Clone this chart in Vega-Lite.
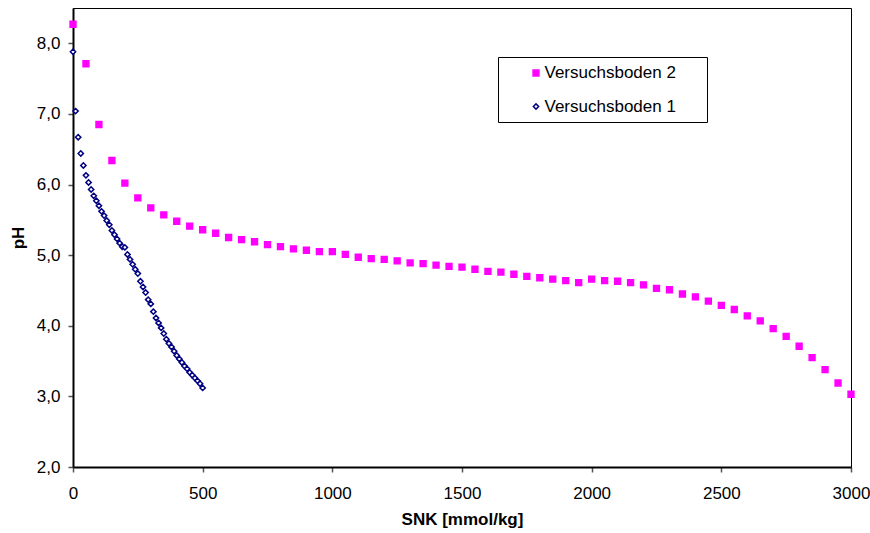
{
  "$schema": "https://vega.github.io/schema/vega-lite/v6.json",
  "width": 778,
  "height": 459,
  "autosize": {"type": "none"},
  "padding": {"left": 73, "top": 8, "right": 19, "bottom": 66},
  "background": "white",
  "config": {
    "font": "Liberation Sans",
    "view": {"stroke": "#000000", "strokeWidth": 1},
    "axis": {"grid": false, "labelFont": "Liberation Sans", "labelFontSize": 17, "labelColor": "#000000", "titleFont": "Liberation Sans", "titleFontSize": 17, "titleFontWeight": "bold", "titleColor": "#000000", "domainColor": "#000000", "domainWidth": 2, "tickColor": "#555555", "tickWidth": 1.5, "tickSize": 5}
  },
  "datasets": {
    "pts": [
      {"series": "Versuchsboden 2", "snk": 0, "ph": 8.27},
      {"series": "Versuchsboden 2", "snk": 50, "ph": 7.71},
      {"series": "Versuchsboden 2", "snk": 100, "ph": 6.85},
      {"series": "Versuchsboden 2", "snk": 150, "ph": 6.34},
      {"series": "Versuchsboden 2", "snk": 200, "ph": 6.02},
      {"series": "Versuchsboden 2", "snk": 250, "ph": 5.81},
      {"series": "Versuchsboden 2", "snk": 300, "ph": 5.67},
      {"series": "Versuchsboden 2", "snk": 350, "ph": 5.57},
      {"series": "Versuchsboden 2", "snk": 400, "ph": 5.48},
      {"series": "Versuchsboden 2", "snk": 450, "ph": 5.41},
      {"series": "Versuchsboden 2", "snk": 500, "ph": 5.36},
      {"series": "Versuchsboden 2", "snk": 550, "ph": 5.31},
      {"series": "Versuchsboden 2", "snk": 600, "ph": 5.25},
      {"series": "Versuchsboden 2", "snk": 650, "ph": 5.22},
      {"series": "Versuchsboden 2", "snk": 700, "ph": 5.19},
      {"series": "Versuchsboden 2", "snk": 750, "ph": 5.15},
      {"series": "Versuchsboden 2", "snk": 800, "ph": 5.12},
      {"series": "Versuchsboden 2", "snk": 850, "ph": 5.09},
      {"series": "Versuchsboden 2", "snk": 900, "ph": 5.07},
      {"series": "Versuchsboden 2", "snk": 950, "ph": 5.05},
      {"series": "Versuchsboden 2", "snk": 1000, "ph": 5.05},
      {"series": "Versuchsboden 2", "snk": 1050, "ph": 5.01},
      {"series": "Versuchsboden 2", "snk": 1100, "ph": 4.97},
      {"series": "Versuchsboden 2", "snk": 1150, "ph": 4.95},
      {"series": "Versuchsboden 2", "snk": 1200, "ph": 4.94},
      {"series": "Versuchsboden 2", "snk": 1250, "ph": 4.92},
      {"series": "Versuchsboden 2", "snk": 1300, "ph": 4.89},
      {"series": "Versuchsboden 2", "snk": 1350, "ph": 4.88},
      {"series": "Versuchsboden 2", "snk": 1400, "ph": 4.86},
      {"series": "Versuchsboden 2", "snk": 1450, "ph": 4.84},
      {"series": "Versuchsboden 2", "snk": 1500, "ph": 4.83},
      {"series": "Versuchsboden 2", "snk": 1550, "ph": 4.80},
      {"series": "Versuchsboden 2", "snk": 1600, "ph": 4.77},
      {"series": "Versuchsboden 2", "snk": 1650, "ph": 4.76},
      {"series": "Versuchsboden 2", "snk": 1700, "ph": 4.73},
      {"series": "Versuchsboden 2", "snk": 1750, "ph": 4.70},
      {"series": "Versuchsboden 2", "snk": 1800, "ph": 4.68},
      {"series": "Versuchsboden 2", "snk": 1850, "ph": 4.66},
      {"series": "Versuchsboden 2", "snk": 1900, "ph": 4.64},
      {"series": "Versuchsboden 2", "snk": 1950, "ph": 4.61},
      {"series": "Versuchsboden 2", "snk": 2000, "ph": 4.66},
      {"series": "Versuchsboden 2", "snk": 2050, "ph": 4.64},
      {"series": "Versuchsboden 2", "snk": 2100, "ph": 4.63},
      {"series": "Versuchsboden 2", "snk": 2150, "ph": 4.61},
      {"series": "Versuchsboden 2", "snk": 2200, "ph": 4.58},
      {"series": "Versuchsboden 2", "snk": 2250, "ph": 4.53},
      {"series": "Versuchsboden 2", "snk": 2300, "ph": 4.51},
      {"series": "Versuchsboden 2", "snk": 2350, "ph": 4.45},
      {"series": "Versuchsboden 2", "snk": 2400, "ph": 4.41},
      {"series": "Versuchsboden 2", "snk": 2450, "ph": 4.35},
      {"series": "Versuchsboden 2", "snk": 2500, "ph": 4.29},
      {"series": "Versuchsboden 2", "snk": 2550, "ph": 4.23},
      {"series": "Versuchsboden 2", "snk": 2600, "ph": 4.14},
      {"series": "Versuchsboden 2", "snk": 2650, "ph": 4.07},
      {"series": "Versuchsboden 2", "snk": 2700, "ph": 3.96},
      {"series": "Versuchsboden 2", "snk": 2750, "ph": 3.85},
      {"series": "Versuchsboden 2", "snk": 2800, "ph": 3.71},
      {"series": "Versuchsboden 2", "snk": 2850, "ph": 3.55},
      {"series": "Versuchsboden 2", "snk": 2900, "ph": 3.38},
      {"series": "Versuchsboden 2", "snk": 2950, "ph": 3.19},
      {"series": "Versuchsboden 2", "snk": 3000, "ph": 3.03},
      {"series": "Versuchsboden 1", "snk": 0, "ph": 7.88},
      {"series": "Versuchsboden 1", "snk": 10, "ph": 7.04},
      {"series": "Versuchsboden 1", "snk": 20, "ph": 6.67},
      {"series": "Versuchsboden 1", "snk": 30, "ph": 6.44},
      {"series": "Versuchsboden 1", "snk": 40, "ph": 6.27},
      {"series": "Versuchsboden 1", "snk": 50, "ph": 6.13},
      {"series": "Versuchsboden 1", "snk": 60, "ph": 6.03},
      {"series": "Versuchsboden 1", "snk": 70, "ph": 5.93},
      {"series": "Versuchsboden 1", "snk": 80, "ph": 5.84},
      {"series": "Versuchsboden 1", "snk": 90, "ph": 5.77},
      {"series": "Versuchsboden 1", "snk": 100, "ph": 5.70},
      {"series": "Versuchsboden 1", "snk": 110, "ph": 5.62},
      {"series": "Versuchsboden 1", "snk": 120, "ph": 5.56},
      {"series": "Versuchsboden 1", "snk": 130, "ph": 5.49},
      {"series": "Versuchsboden 1", "snk": 140, "ph": 5.43},
      {"series": "Versuchsboden 1", "snk": 150, "ph": 5.35},
      {"series": "Versuchsboden 1", "snk": 160, "ph": 5.29},
      {"series": "Versuchsboden 1", "snk": 170, "ph": 5.23},
      {"series": "Versuchsboden 1", "snk": 180, "ph": 5.17},
      {"series": "Versuchsboden 1", "snk": 190, "ph": 5.12},
      {"series": "Versuchsboden 1", "snk": 200, "ph": 5.11},
      {"series": "Versuchsboden 1", "snk": 210, "ph": 5.01},
      {"series": "Versuchsboden 1", "snk": 220, "ph": 4.94},
      {"series": "Versuchsboden 1", "snk": 230, "ph": 4.87},
      {"series": "Versuchsboden 1", "snk": 240, "ph": 4.80},
      {"series": "Versuchsboden 1", "snk": 250, "ph": 4.74},
      {"series": "Versuchsboden 1", "snk": 260, "ph": 4.63},
      {"series": "Versuchsboden 1", "snk": 270, "ph": 4.55},
      {"series": "Versuchsboden 1", "snk": 280, "ph": 4.47},
      {"series": "Versuchsboden 1", "snk": 290, "ph": 4.37},
      {"series": "Versuchsboden 1", "snk": 300, "ph": 4.31},
      {"series": "Versuchsboden 1", "snk": 310, "ph": 4.20},
      {"series": "Versuchsboden 1", "snk": 320, "ph": 4.11},
      {"series": "Versuchsboden 1", "snk": 330, "ph": 4.04},
      {"series": "Versuchsboden 1", "snk": 340, "ph": 3.97},
      {"series": "Versuchsboden 1", "snk": 350, "ph": 3.89},
      {"series": "Versuchsboden 1", "snk": 360, "ph": 3.81},
      {"series": "Versuchsboden 1", "snk": 370, "ph": 3.75},
      {"series": "Versuchsboden 1", "snk": 380, "ph": 3.70},
      {"series": "Versuchsboden 1", "snk": 390, "ph": 3.64},
      {"series": "Versuchsboden 1", "snk": 400, "ph": 3.58},
      {"series": "Versuchsboden 1", "snk": 410, "ph": 3.53},
      {"series": "Versuchsboden 1", "snk": 420, "ph": 3.48},
      {"series": "Versuchsboden 1", "snk": 430, "ph": 3.43},
      {"series": "Versuchsboden 1", "snk": 440, "ph": 3.39},
      {"series": "Versuchsboden 1", "snk": 450, "ph": 3.34},
      {"series": "Versuchsboden 1", "snk": 460, "ph": 3.30},
      {"series": "Versuchsboden 1", "snk": 470, "ph": 3.26},
      {"series": "Versuchsboden 1", "snk": 480, "ph": 3.22},
      {"series": "Versuchsboden 1", "snk": 490, "ph": 3.18},
      {"series": "Versuchsboden 1", "snk": 500, "ph": 3.12}
    ]
  },
  "data": {"name": "pts"},
  "mark": {"type": "point", "filled": false, "strokeWidth": 1.5, "opacity": 1},
  "encoding": {
    "x": {
      "field": "snk", "type": "quantitative", "title": "SNK [mmol/kg]",
      "scale": {"domain": [0, 3000], "nice": false, "zero": false},
      "axis": {"values": [0, 500, 1000, 1500, 2000, 2500, 3000], "format": "d", "labelPadding": 13, "titlePadding": 10, "labelFlush": false}
    },
    "y": {
      "field": "ph", "type": "quantitative", "title": "pH",
      "scale": {"domain": [2, 8.5], "nice": false, "zero": false},
      "axis": {"values": [2, 3, 4, 5, 6, 7, 8], "labelExpr": "replace(format(datum.value, '.1f'), '.', ',')", "labelPadding": 8, "titlePadding": 9}
    },
    "shape": {
      "field": "series", "type": "nominal",
      "scale": {"domain": ["Versuchsboden 2", "Versuchsboden 1"], "range": ["square", "diamond"]}
    },
    "fill": {
      "field": "series", "type": "nominal",
      "scale": {"domain": ["Versuchsboden 2", "Versuchsboden 1"], "range": ["#FF00FF", "#FFFFFF"]}
    },
    "stroke": {
      "field": "series", "type": "nominal",
      "scale": {"domain": ["Versuchsboden 2", "Versuchsboden 1"], "range": ["#FF00FF", "#000080"]}
    },
    "size": {
      "field": "series", "type": "nominal",
      "scale": {"domain": ["Versuchsboden 2", "Versuchsboden 1"], "range": [34, 28]},
      "legend": {
        "title": null, "orient": "none", "legendX": 425, "legendY": 49,
        "fillColor": "#FFFFFF", "strokeColor": "#000000", "padding": 7.5,
        "labelFont": "Liberation Sans", "labelFontSize": 17, "labelColor": "#000000",
        "symbolOffset": 22, "labelOffset": 0, "rowPadding": 15.5,
        "symbolStrokeWidth": 1.5,
        "labelExpr": "datum.label + '\u00a0\u00a0\u00a0\u00a0\u00a0\u200b'"
      }
    }
  }
}
